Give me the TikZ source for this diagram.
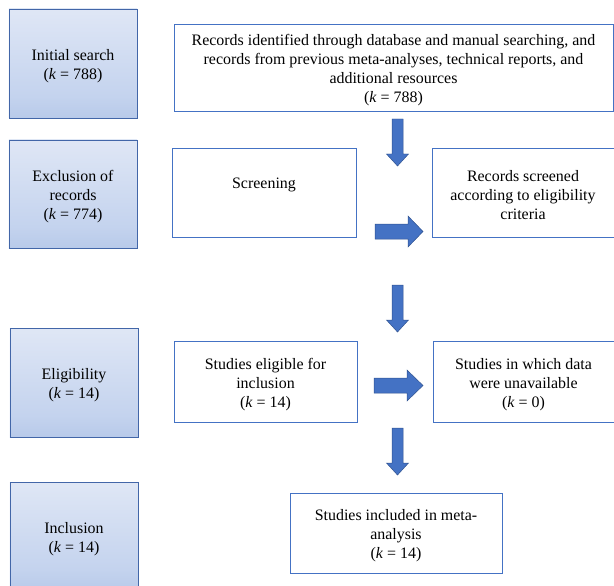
\documentclass[tikz,border=0pt]{standalone}
\usepackage{fontspec}
\setmainfont{Liberation Serif}
\definecolor{edgeblue}{HTML}{4472C4}
\definecolor{sideedge}{HTML}{4266A8}
\definecolor{arrowfill}{HTML}{4472C4}
\definecolor{arrowedge}{HTML}{2F528F}
\definecolor{sideTop}{HTML}{F0F3FA}
\definecolor{sideMid}{HTML}{C4D3EE}
\definecolor{sideBot}{HTML}{A8BEE4}
\definecolor{sideBot2}{HTML}{B9CBEA}
\pgfdeclareverticalshading{sidegrad}{100bp}{%
  color(0bp)=(sideBot2); color(12bp)=(sideBot); color(35bp)=(sideMid); color(100bp)=(sideTop)}
\tikzset{
  sidebox/.style={draw=sideedge, line width=0.9pt, shading=sidegrad, align=center,
    font=\fontsize{16}{19}\selectfont, inner sep=0pt},
  flowbox/.style={draw=edgeblue, line width=0.9pt, fill=white, align=center,
    font=\fontsize{16}{19}\selectfont, inner sep=0pt},
  plaintext/.style={align=center, font=\fontsize{16}{19}\selectfont, inner sep=0pt},
  blockarrow/.style={fill=arrowfill, draw=arrowedge, line width=0.5pt, line join=miter}
}
\newcommand{\kval}[1]{(\textit{k} = #1)}
\newcommand{\tstrut}{\rule{0pt}{17bp}}
\begin{document}
\begin{tikzpicture}[x=1bp,y=-1bp]
\useasboundingbox (0,0) rectangle (614,586);
\begin{scope}
\clip (0,0) rectangle (614,586);
% left column
\node[sidebox, minimum width=128bp, minimum height=109bp] (init) at (73,63.5) {\tstrut Initial search\\\kval{788}};
\node[sidebox, minimum width=128bp, minimum height=108bp] (excl) at (73,194) {\tstrut Exclusion of\\records\\\kval{774}};
\node[sidebox, minimum width=128bp, minimum height=109bp] (elig) at (74,382.5) {\tstrut Eligibility\\\kval{14}};
\node[sidebox, minimum width=128bp, minimum height=109bp] (incl) at (74,536.5) {\tstrut Inclusion\\\kval{14}};
% flow boxes
\node[flowbox, minimum width=439bp, minimum height=87bp] (records) at (393.5,67.5)
  {\tstrut Records identified through database and manual searching, and\\records from previous meta-analyses, technical reports, and\\additional resources\\\kval{788}};
\node[flowbox, minimum width=184bp, minimum height=89bp] (screen) at (264,192.5) {};
\node[plaintext] (screentext) at (264,184.5) {Screening};
\node[flowbox, minimum width=182bp, minimum height=89bp] (screened) at (523,192.5)
  {\tstrut Records screened\\according to eligibility\\criteria};
\node[flowbox, minimum width=183bp, minimum height=81bp] (eligible) at (265.5,381.5)
  {\tstrut Studies eligible for\\inclusion\\\kval{14}};
\node[flowbox, minimum width=181bp, minimum height=81bp] (unavail) at (523.5,381.5)
  {\tstrut Studies in which data\\were unavailable\\\kval{0}};
\node[flowbox, minimum width=212bp, minimum height=80bp] (included) at (396,533)
  {\tstrut Studies included in meta-\\analysis\\\kval{14}};
\end{scope}
% block arrows
\newcommand{\downblock}[3]{% x centre, top, bottom
  \draw[blockarrow] ({#1-5.5},#2) -- ({#1+5.5},#2) -- ({#1+5.5},{#3-12}) -- ({#1+11},{#3-12})
    -- (#1,#3) -- ({#1-11},{#3-12}) -- ({#1-5.5},{#3-12}) -- cycle;}
\newcommand{\rightblock}[4]{% left, right, y centre, head start
  \draw[blockarrow] (#1,{#3-7.5}) -- (#4,{#3-7.5}) -- (#4,{#3-15.5}) -- (#2,#3)
    -- (#4,{#3+15.5}) -- (#4,{#3+7.5}) -- (#1,{#3+7.5}) -- cycle;}
\downblock{397.5}{119}{166}
\rightblock{375}{423}{231.5}{408}
\downblock{397.5}{285}{332}
\rightblock{374}{423}{385.5}{407}
\downblock{397.5}{428}{475}
\end{tikzpicture}
\end{document}
